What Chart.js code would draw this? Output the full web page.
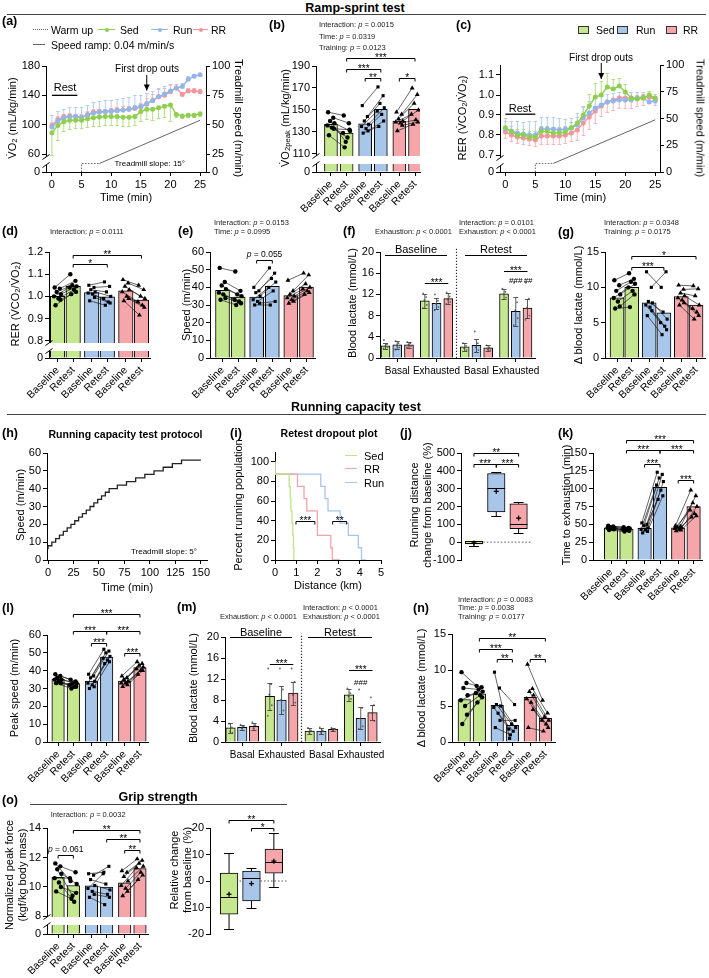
<!DOCTYPE html>
<html>
<head>
<meta charset="utf-8">
<title>Ramp-sprint test, running capacity test and grip strength</title>
<script src="https://cdn.jsdelivr.net/npm/chart.js"></script>
<style>
  html, body { margin: 0; padding: 0; background: #fff; }
  #fig { position: relative; width: 709px; height: 978px; overflow: hidden; font-family: 'Liberation Sans', Arial, sans-serif; color: #000; }
  #fig canvas { position: absolute; }
  .t { position: absolute; white-space: nowrap; line-height: 1; }
  .t sub { font-size: 70%; vertical-align: -0.25em; line-height: 0; }
</style>
</head>
<body>
<div id="fig"></div>
<script>
// ---------------- data ----------------
// (a) VO2 during ramp-sprint test, mean per minute
const rampTime = [0,1,2,3,4,5,6,7,8,9,10,11,12,13,14,15,16,17,18,19,20,21,22,23,24,25];
const vo2Sed = [89,99,104,106,106,106,108,109.5,110.5,111,111,111,110,110,111,118,121,121,123,125,127,114,112,113,113,115];
const vo2Run = [97,105,109,111,111,110,113,116,117,118,118,119,120,121,123,125,129,133,138,142,146,150,152,162,166,168];
const vo2RR  = [99,107,111,112,111,110,114,117,118,118,119,120,120,121,122,124,128,133,138,140,145,150,141,146,146,145];
const vo2SedSD = [30,20,13,12,11,11,11,11,12,12,12,12,12,12,12,13,13,14,14,14,22,4,3,3,3,3];
const vo2RunSD = [16,14,13,13,13,14,14,15,15,15,16,16,17,17,17,16,14,13,12,11,8,6,5,4,3,3];
const vo2RRSD  = [5,5,4,4,4,4,4,4,4,4,4,4,5,5,5,6,8,9,10,10,10,6,4,4,4,4];
// (c) RER during ramp-sprint test
const rerSed = [0.836,0.817,0.80,0.80,0.79,0.79,0.817,0.817,0.81,0.81,0.815,0.836,0.86,0.90,0.945,0.99,1.0,1.04,1.03,1.045,1.015,0.985,0.98,0.985,1.0,0.985];
const rerRun = [0.83,0.82,0.81,0.805,0.80,0.80,0.83,0.83,0.83,0.825,0.83,0.835,0.85,0.885,0.91,0.935,0.95,0.965,0.97,0.975,0.975,0.975,0.985,0.985,0.965,0.97];
const rerRR  = [0.815,0.80,0.79,0.785,0.78,0.775,0.795,0.795,0.795,0.795,0.80,0.81,0.825,0.86,0.89,0.92,0.945,0.965,0.975,0.985,0.985,0.985,0.985,0.99,0.99,0.98];
const rerSedSD = [0.05,0.03,0.03,0.03,0.03,0.03,0.03,0.03,0.03,0.03,0.03,0.03,0.03,0.04,0.06,0.07,0.07,0.07,0.05,0.04,0.04,0.03,0.02,0.02,0.02,0.02];
const rerRunSD = [0.04,0.05,0.06,0.06,0.07,0.07,0.06,0.06,0.06,0.06,0.05,0.05,0.06,0.06,0.06,0.05,0.05,0.04,0.04,0.04,0.04,0.04,0.03,0.03,0.03,0.02];
const rerRRSD  = [0.03,0.03,0.03,0.03,0.03,0.03,0.04,0.04,0.04,0.04,0.04,0.04,0.05,0.06,0.06,0.06,0.05,0.05,0.05,0.05,0.05,0.05,0.04,0.04,0.03,0.03];
// treadmill speed protocol (right axis)
const warmTime = [5, 5, 8], warmSpeed = [0, 8, 8];
const rampT = [8, 25], rampSpeed = [8, 48.8];

// (b) VO2peak
const vo2pkMean = [137, 129, 137.5, 150.5, 140, 150.5];
const vo2pkSedB = [148,143,140,138,136,134,133,127], vo2pkSedR = [145,138,121,131,129,125,132,116];
const vo2pkRunB = [154,144,140,137,135,133,131,129], vo2pkRunR = [171,163,156,152,149,146,140,135];
const vo2pkRRB  = [148,146,142,140,139,138,136,131], vo2pkRRR  = [170,164,156,150,146,141,139,137];
// (d) RER peak
const rerMean = [1.0, 1.045, 1.017, 0.998, 1.025, 0.983];
const rerSedB = [1.04,1.035,1.02,1.01,1.0,0.99,0.985,0.96], rerSedR = [1.10,1.07,1.05,1.045,1.04,1.03,1.02,1.01];
const rerRunB = [1.05,1.04,1.03,1.02,1.015,1.01,0.995,0.98], rerRunR = [1.065,1.045,1.02,1.0,0.99,0.975,0.97,0.96];
const rerRRB  = [1.075,1.06,1.045,1.03,1.02,1.0,0.99,0.98], rerRRR  = [1.05,1.03,1.0,0.99,0.975,0.96,0.95,0.915];
// (e) speed at VO2peak
const spdMean = [38.3, 34.5, 34.5, 40.5, 35.3, 40.2];
const spdSedB = [51,43,41,39,37,36,34,33], spdSedR = [49,38,36,35,33,32,31,30];
const spdRunB = [40,38,37,35,33,32,31,30], spdRunR = [51,48,45,43,40,38,32,30];
const spdRRB  = [44,38,36,35,34,33,32,31], spdRRR  = [48,47,42,40,39,38,37,36];
// (f) blood lactate, ramp-sprint (Baseline basal/exhausted, Retest basal/exhausted; Sed, Run, RR)
const lacRsMean = [2.3,2.5,2.5, 10.8,10.3,11.2, 2.1,2.4,1.9, 12.1,8.8,9.4];
const lacRsSD   = [0.6,0.8,0.6, 1.3,1.1,1.0, 0.8,1.2,0.5, 0.9,2.7,1.8];
const lacRsDots = [[3.4,2.6,2.2,2.0,1.8],[3.2,2.8,2.4,2.0,1.6],[3.0,2.8,2.5,2.2,2.0],
                   [12.2,11.5,10.9,10.0,9.4],[12.0,10.8,10.2,9.6,9.0],[12.4,11.6,11.0,10.6,10.2],
                   [2.8,2.3,1.8,1.5],[5.0,2.8,2.0,1.5],[2.4,2.0,1.7,1.5],
                   [13.1,12.5,12.0,11.4],[14.2,10.5,9.0,7.5,6.2],[14.2,11.2,9.5,8.0,7.2]];
// (g) delta blood lactate, ramp-sprint
const dlRsMean = [8.5, 10.0, 7.8, 6.4, 8.7, 7.5];
const dlRsSedB = [11,10.3,9.5,9,8.5,8,7.3,7], dlRsSedR = [12,11.2,10.8,10.5,10,9.5,9,7.2];
const dlRsRunB = [12.2,10,8,7.8,7.5,7.2,6.7,6], dlRsRunR = [10,12.2,6.5,5.5,5,4.5,4,3.3];
const dlRsRRB  = [10.3,9.7,9.2,8.8,8.5,8.2,7.8,7.5], dlRsRRR = [10.2,9.8,8.8,7.5,7,6.5,6,5.5];
// (h) running capacity test protocol
const protoTime  = [0,3.75,7.5,11.25,15,18.75,22.5,26.25,30,33.75,37.5,41.25,45,48.75,52.5,56.25,60,68,77,86,95,104,113,122,131,140,150];
const protoSpeed = [6,8,10,12,14,16,18,20,22,24,26,28,30,32,34,36,38,40,42,44,46,48,50,52,54,56,56];
// (i) retest dropout distances (km)
const dropSed = [0.67,0.72,0.75,0.8,0.84,0.87,0.89,0.9];
const dropRR  = [1.06,1.37,1.5,2.0,2.0,2.63,2.7,3.07];
const dropRun = [2.16,2.36,2.5,3.07,3.46,3.93,4.08,4.27];
// (j) running distance change from baseline (%): Sed, Run, RR
const rdMin = [-20,145,50], rdQ1 = [-10,170,75], rdMed = [-5,305,100], rdQ3 = [5,385,215], rdMax = [8,395,225], rdMean = [-4,285,135];
// (k) time to exhaustion
const tteMean = [45, 43.5, 44.5, 102, 45, 75];
const tteSedB = [48,47,46,45,45,44,43,42], tteSedR = [46,45,44,44,43,42,41,40];
const tteRunB = [52,50,48,45,43,42,40,38], tteRunR = [123,120,115,110,105,98,90,85];
const tteRRB  = [48,47,46,45,44,43,42,41], tteRRR  = [98,90,80,75,70,65,62,60];
// (l) peak speed
const pkMean = [35.3, 32.7, 34.2, 47.6, 34.2, 41.8];
const pkSedB = [38,37,36,35,35,34,33,33], pkSedR = [35,34,33,33,32,31,31,30];
const pkRunB = [38,37,36,34,33,32,31,30], pkRunR = [52,51,50,48,47,46,45,44];
const pkRRB  = [37,36,35,34,33,33,32,31], pkRRR  = [45,44,43,42,41,40,40,38];
// (m) blood lactate, running capacity test
const lacRcMean = [2.7,2.8,3.0, 8.7,8.0,9.3, 2.1,2.1,2.4, 9.0,4.5,5.6];
const lacRcSD   = [1.0,0.5,0.7, 2.6,2.7,2.2, 0.6,0.5,0.3, 1.1,2.1,1.5];
const lacRcDots = [[3.5,2.8,2.0,1.8],[3.3,3.0,2.6],[3.8,3.2,2.6],
                   [14,11,9,7,5],[14,10,8,6],[14,11.5,9,7.5],
                   [2.7,2.2,1.8],[2.8,2.2,1.8],[2.7,2.4,2.2],
                   [10.2,9.3,8.7,8.2],[10,6.5,4.5,3,2.5],[8.5,7,5.5,4]];
// (n) delta blood lactate, running capacity test
const dlRcMean = [5.9, 6.7, 5.1, 2.3, 6.2, 3.3];
const dlRcSedB = [9.7,8.2,7.5,6.5,5.8,5.0,3.8,2.5], dlRcSedR = [7.8,7.6,7.3,7.0,6.8,6.5,6.2,5.5];
const dlRcRunB = [9.7,7.5,5.2,5.0,4.8,4.0,3.0,2.0], dlRcRunR = [0.5,5.2,2.5,2.0,1.8,1.5,3.0,1.0];
const dlRcRRB  = [10.8,7.4,7.0,6.5,6.0,5.5,4.5,2.0], dlRcRRR = [5.8,4.0,3.5,3.0,3.0,2.5,2.0,1.5];
// (o) grip strength
const gripMean = [10.65, 10.1, 10.08, 10.0, 10.28, 11.25];
const gripSedB = [11.6,11.4,11.2,10.9,10.6,10.3,10.0,9.7], gripSedR = [10.4,11.0,9.4,10.2,10.6,9.0,9.6,9.2];
const gripRunB = [10.9,10.8,10.5,10.1,9.9,9.7,9.5,9.3], gripRunR = [11.0,11.4,10.2,9.8,10.9,9.5,9.3,8.8];
const gripRRB  = [11.1,11.0,10.7,10.4,10.1,9.9,9.7,9.4], gripRRR = [11.9,11.8,11.6,11.4,11.3,11.0,10.8,10.5];
const gcMin = [-18,-10,-2.2], gcQ1 = [-12.5,-7.5,3], gcMed = [-6,1,7.2], gcQ3 = [3,3.7,12], gcMax = [10.5,5,18], gcMean = [-5,-1,7.5];

// ---------------- style ----------------
const FF = "'Liberation Sans', Arial, Helvetica, sans-serif";
Chart.defaults.font.family = FF;
Chart.defaults.color = '#000';
const fig = document.getElementById('fig');

const GRN = '#c5e78f', BLU = '#a8c5ea', RED = '#f5a6aa';
const SEDL = '#8fcf4f', RUNL = '#92b6ea', RRL = '#f3959c';
const SEDE = '#b2df85', RUNE = '#b3cdf2', RRE = '#f7b6ba';
const FILL = [GRN, GRN, BLU, BLU, RED, RED];
const FILL3 = [GRN, BLU, RED];
const P = [0, 1.1, 2.4, 3.5, 4.8, 5.9];
const XL = ['Baseline', 'Retest', 'Baseline', 'Retest', 'Baseline', 'Retest'];
const SHAPES = ['circle', 'rect', 'triangle'];
const JIT = [-0.2, 0.16, -0.06, 0.24, -0.25, 0.06, 0.2, -0.14];

// ---------------- helpers ----------------
function T(x, y, html, size, anchor, o = {}) {
  const d = document.createElement('div');
  d.className = 't';
  d.innerHTML = html;
  d.style.left = x + 'px';
  d.style.top = y + 'px';
  d.style.fontSize = size + 'px';
  if (o.bold) d.style.fontWeight = 'bold';
  if (o.color) d.style.color = o.color;
  const tx = anchor === 'l' ? '0' : anchor === 'r' ? '-100%' : '-50%';
  d.style.transform = 'translate(' + tx + ',-50%)' + (o.rot ? ' rotate(' + o.rot + 'deg)' : '');
  fig.appendChild(d);
}
function HL(x1, x2, y, color, w, style) {
  const d = document.createElement('div');
  Object.assign(d.style, {position: 'absolute', left: x1 + 'px', top: (y - w / 2) + 'px', width: (x2 - x1) + 'px',
    height: '0', borderTop: w + 'px ' + (style || 'solid') + ' ' + color});
  fig.appendChild(d);
}
function dot(x, y, r, col) {
  const d = document.createElement('div');
  Object.assign(d.style, {position: 'absolute', left: (x - r) + 'px', top: (y - r) + 'px', width: 2 * r + 'px',
    height: 2 * r + 'px', borderRadius: '50%', background: col});
  fig.appendChild(d);
}
function swatch(x, y, fill) {
  const d = document.createElement('div');
  Object.assign(d.style, {position: 'absolute', left: x + 'px', top: (y - 4) + 'px', width: '9px', height: '6px',
    background: fill, border: '1px solid #333'});
  fig.appendChild(d);
}
const xy = (xs, ys) => xs.map((x, i) => ({x, y: ys[i]}));
const km = drops => [{x: 0, y: 100}].concat(drops.map((d, i) => ({x: d, y: 100 * (drops.length - i - 1) / drops.length})));

function ax(o) {
  return {
    type: 'linear', position: o.pos, min: o.min, max: o.max, offset: false, bounds: 'data',
    display: o.display !== false,
    afterBuildTicks: s => { s.ticks = o.ticks.map(v => ({value: v})); },
    ticks: {
      autoSkip: false, color: '#000', padding: o.pad ?? 2,
      font: {size: o.size || 11, family: FF},
      minRotation: o.rot || 0, maxRotation: o.rot || 0,
      callback: o.lab || (v => String(v))
    },
    grid: {display: true, drawOnChartArea: false, drawTicks: true, tickLength: 4, color: '#000', lineWidth: 1, offset: false},
    border: {display: true, color: '#000', width: 1},
    afterFit: s => {
      if (s.isHorizontal()) s.height = o.h ?? 20; else s.width = o.w ?? 30;
      s.paddingLeft = s.paddingRight = s.paddingTop = s.paddingBottom = 0;
    }
  };
}

function drawLabel(c, s, xm, Y) {
  if (s[0] === '*') {
    c.font = '10px ' + FF; c.textAlign = 'center'; c.textBaseline = 'alphabetic';
    c.fillText(s, xm, Y + 2.8);
  } else {
    const rest = s.slice(1);
    c.font = 'italic 8.5px ' + FF; const w1 = c.measureText('p').width;
    c.font = '8.5px ' + FF; const w2 = c.measureText(rest).width;
    const x0 = xm - (w1 + w2) / 2;
    c.textAlign = 'left'; c.textBaseline = 'alphabetic';
    c.font = 'italic 8.5px ' + FF; c.fillText('p', x0, Y - 4);
    c.font = '8.5px ' + FF; c.fillText(rest, x0 + w1, Y - 4);
  }
}

// annotations drawn through the chart's own scales
function deco(sp) {
  const run = (ch, under) => {
    const c = ch.ctx, X = ch.scales.x, Y = ch.scales.y, A = ch.chartArea;
    const xp = v => X.getPixelForValue(v), yp = v => Y.getPixelForValue(v);
    const seg = (x1, y1, x2, y2) => { c.beginPath(); c.moveTo(x1, y1); c.lineTo(x2, y2); c.stroke(); };
    c.save();
    (sp.errs || []).filter(e => !!e.under === under).forEach(e => {
      const meta = ch.getDatasetMeta(e.ds), d = ch.data.datasets[e.ds].data;
      c.strokeStyle = e.color; c.lineWidth = e.lw || 1;
      meta.data.forEach((el, i) => {
        const v = d[i].y;
        [[e.up, 1], [e.dn, -1]].forEach(([arr, sg]) => {
          if (!arr) return;
          const ye = Math.round(yp(v + sg * arr[i])) + 0.5;
          seg(el.x, yp(v), el.x, ye);
          seg(el.x - e.cap, ye, el.x + e.cap, ye);
        });
      });
    });
    (sp.lines || []).filter(l => !!l.under === under).forEach(l => {
      c.strokeStyle = l.color || '#000'; c.lineWidth = l.lw || 1; c.setLineDash(l.dash || []);
      c.beginPath();
      l.x.forEach((xv, i) => { const px = xp(xv), py = yp(l.y[i]); if (i) c.lineTo(px, py); else c.moveTo(px, py); });
      c.stroke(); c.setLineDash([]);
      if (l.arrow) {
        const n = l.x.length, px = xp(l.x[n - 1]), py = yp(l.y[n - 1]);
        c.fillStyle = l.color || '#000';
        c.beginPath(); c.moveTo(px, py); c.lineTo(px - 3, py - 6); c.lineTo(px + 3, py - 6); c.closePath(); c.fill();
      }
    });
    if (!under) {
      if (sp.brk !== undefined) {
        const t0 = Math.round(yp(sp.brk) + (sp.brkOff ?? 2.5)), h = sp.brkH ?? 8;
        const L = A.left, R = sp.brkW ? L + sp.brkW : A.right + 1;
        c.fillStyle = '#fff'; c.fillRect(L - 5, t0, R - L + 5, h);
        c.strokeStyle = '#000'; c.lineWidth = 1;
        [t0, t0 + h].forEach(yy => seg(L - 3.5, yy + 2.5, L + 3.5, yy - 2.5));
      }
      if (sp.box) {
        const b = sp.box, meta = ch.getDatasetMeta(0), d = ch.data.datasets[0].data;
        c.strokeStyle = '#000'; c.lineWidth = 1;
        meta.data.forEach((el, i) => {
          const x = el.x, hw = el.width / 2, q = d[i].y;
          const ym = Math.round(yp(b.med[i])) + 0.5, yh = Math.round(yp(b.hi[i])) + 0.5, yl = Math.round(yp(b.lo[i])) + 0.5;
          seg(x - hw, ym, x + hw, ym);
          seg(x, yp(q[1]), x, yh); seg(x - 5, yh, x + 5, yh);
          seg(x, yp(q[0]), x, yl); seg(x - 5, yl, x + 5, yl);
          const yq = yp(b.mean[i]);
          c.lineWidth = 1.3; seg(x - 2.5, yq, x + 2.5, yq); seg(x, yq - 2.5, x, yq + 2.5); c.lineWidth = 1;
        });
      }
      (sp.br || []).forEach(([x1, x2, v, s, tk = 3]) => {
        const X1 = xp(x1), X2 = xp(x2), Yb = Math.round(yp(v)) + 0.5;
        c.strokeStyle = '#000'; c.lineWidth = 1; c.fillStyle = '#000';
        c.beginPath(); c.moveTo(X1, Yb + tk); c.lineTo(X1, Yb); c.lineTo(X2, Yb); c.lineTo(X2, Yb + tk); c.stroke();
        drawLabel(c, s, (X1 + X2) / 2, Yb);
      });
      (sp.texts || []).forEach(([xv, v, s, size]) => {
        c.fillStyle = '#000'; c.font = (size || 8) + 'px ' + FF; c.textAlign = 'center'; c.textBaseline = 'middle';
        c.fillText(s, xp(xv), yp(v));
      });
    }
    c.restore();
  };
  return {id: 'deco', beforeDatasetsDraw: ch => run(ch, true), afterDatasetsDraw: ch => run(ch, false)};
}

function mk(area, cfg, o = {}) {
  const [l, t, r, b] = area.map(Math.round);
  const yw = o.yw ?? 30, xh = o.xh ?? 0, y2w = o.y2w ?? 0;
  const pl = o.pl ?? 45, pt = o.pt ?? 50, pr = o.pr ?? 40, pb = o.pb ?? 55;
  const cv = document.createElement('canvas');
  const W = r - l + pl + pr, H = b - t + pt + pb;
  cv.width = W; cv.height = H;
  Object.assign(cv.style, {left: (l - pl) + 'px', top: (t - pt) + 'px', width: W + 'px', height: H + 'px'});
  fig.appendChild(cv);
  cfg.options = Object.assign({
    responsive: false, animation: false, devicePixelRatio: 1, events: [],
    layout: {padding: {left: pl - yw, top: pt, right: pr - y2w, bottom: pb - xh}}
  }, cfg.options || {});
  cfg.options.plugins = Object.assign({legend: {display: false}, tooltip: {enabled: false}}, cfg.options.plugins || {});
  return new Chart(cv, cfg);
}

function series(xs, ys, col) {
  return {data: xy(xs, ys), borderColor: col, backgroundColor: col, pointBackgroundColor: col, pointBorderColor: col,
    pointRadius: 1.8, borderWidth: 1.4};
}

// bar + before/after pairs panel
function pairPanel(area, sp) {
  const lines = [], marks = [[], [], []];
  sp.grp.forEach(([B, R], g) => {
    B.forEach((v, i) => {
      const dx = JIT[i % JIT.length];
      const a = {x: P[2 * g] + dx, y: v}, b = {x: P[2 * g + 1] + dx, y: R[i]};
      lines.push(a, b, {x: b.x, y: null});
      marks[g].push(a, b);
    });
  });
  const ds = [
    {type: 'bar', data: xy(P, sp.mean), backgroundColor: FILL, borderColor: '#000', borderWidth: 1,
      barThickness: sp.bw, base: sp.y.min, order: 3},
    {type: 'line', data: lines, borderColor: '#222', borderWidth: 0.7, pointRadius: 0, spanGaps: false, order: 2}
  ].concat(marks.map((m, g) => ({type: 'line', data: m, showLine: false, pointStyle: SHAPES[g],
    pointRadius: g === 2 ? 2.8 : 2.2, pointBackgroundColor: '#000', pointBorderColor: '#000', pointBorderWidth: 0, order: 1})));
  const fmt = sp.y.fmt || (v => String(v));
  return mk(area, {type: 'bar', data: {datasets: ds}, options: {scales: {
    x: ax({pos: 'bottom', min: sp.x[0], max: sp.x[1], ticks: P, lab: (v, i) => XL[i], rot: 45, size: 10.5, h: 40, pad: 2}),
    y: ax({pos: 'left', min: sp.y.min, max: sp.y.max, ticks: sp.y.ticks,
      lab: v => (sp.y.brk !== undefined && v === sp.y.min) ? '0' : fmt(v), w: 30})
  }}, plugins: [deco({brk: sp.y.brk, brkOff: sp.y.brkOff, br: sp.br})]}, {xh: 40});
}

// blood lactate panel: 12 bars with SD and individual dots
function lacPanel(area, sp) {
  const pos = [];
  for (let h = 0; h < 2; h++) for (let g = 0; g < 2; g++) for (let i = 0; i < 3; i++) pos.push(h * 6.75 + g * 3.35 + i);
  const dots = [];
  sp.dots.forEach((arr, k) => arr.forEach((v, j) => dots.push({x: pos[k] + JIT[j] * 0.7, y: v})));
  return mk(area, {type: 'bar', data: {datasets: [
    {type: 'bar', data: xy(pos, sp.mean), backgroundColor: pos.map((_, k) => FILL3[k % 3]), borderColor: '#000',
      borderWidth: 1, barThickness: sp.bw, order: 2},
    {type: 'line', data: dots, showLine: false, pointRadius: 0.9, pointBackgroundColor: '#666', pointBorderWidth: 0, order: 1}
  ]}, options: {scales: {
    x: ax({pos: 'bottom', min: -0.47, max: 12.74, ticks: [1, 4.35, 7.75, 11.1],
      lab: (v, i) => ['Basal', 'Exhausted', 'Basal', 'Exhausted'][i], size: 10, h: 20, pad: 3}),
    y: ax({pos: 'left', min: 0, max: 20, ticks: [0, 4, 8, 12, 16, 20], w: 30})
  }}, plugins: [deco({errs: [{ds: 0, up: sp.sd, dn: sp.sd, color: '#333', cap: 2.5, lw: 0.8}], br: sp.br, texts: sp.texts,
    lines: [{x: [6.05, 6.05], y: [0, 20.6], dash: [1.2, 1.8], color: '#333', lw: 1.2}]})]}, {xh: 20});
}

// box and whisker panel
function boxPanel(area, sp) {
  const xs = [0, 1, 2];
  return mk(area, {type: 'bar', data: {datasets: [
    {type: 'bar', data: xs.map((x, i) => ({x, y: [sp.q1[i], sp.q3[i]]})), backgroundColor: FILL3, borderColor: '#000',
      borderWidth: 1, borderSkipped: false, barThickness: sp.bw}
  ]}, options: {scales: {
    x: ax({pos: 'bottom', min: sp.x[0], max: sp.x[1], ticks: xs, display: false, h: 0}),
    y: ax({pos: 'left', min: sp.y.min, max: sp.y.max, ticks: sp.y.ticks, w: 30})
  }}, plugins: [deco({box: {med: sp.med, lo: sp.lo, hi: sp.hi, mean: sp.mean}, br: sp.br,
    lines: [{x: sp.zero, y: [0, 0], dash: [1.5, 2], color: '#555', under: true}]})]}, {xh: 0});
}

// ---------------- (a) VO2 over time ----------------
const aYmin = 35.5, aYmax = 180, aYt = [aYmin, 60, 100, 140, 180], speedLab = [0, 25, 50, 75, 100];
mk([46, 66, 206, 172], {type: 'line', data: {datasets: [
  series(rampTime, vo2Sed, SEDL), series(rampTime, vo2Run, RUNL), series(rampTime, vo2RR, RRL),
  {data: xy(warmTime, warmSpeed), yAxisID: 'y2', borderColor: '#666', borderWidth: 1, borderDash: [1.5, 1.5], pointRadius: 0},
  {data: xy(rampT, rampSpeed), yAxisID: 'y2', borderColor: '#666', borderWidth: 1, pointRadius: 0}
]}, options: {scales: {
  x: ax({pos: 'bottom', min: -1, max: 26, ticks: [0, 5, 10, 15, 20, 25], h: 20}),
  y: ax({pos: 'left', min: aYmin, max: aYmax, ticks: aYt, lab: v => v === aYmin ? '0' : String(v), w: 30}),
  y2: ax({pos: 'right', min: 0, max: 100, ticks: aYt.map(v => (v - aYmin) / (aYmax - aYmin) * 100),
    lab: (v, i) => String(speedLab[i]), w: 30})
}}, plugins: [deco({
  errs: [{ds: 0, dn: vo2SedSD, color: SEDE, cap: 1.8, under: true}, {ds: 1, up: vo2RunSD, color: RUNE, cap: 1.8, under: true},
         {ds: 2, up: vo2RRSD, color: RRE, cap: 1.8, under: true}],
  brk: 60, brkW: 6,
  lines: [{x: [0, 4.3], y: [140, 140], lw: 1.3}, {x: [16, 16], y: [167.7, 146.5], arrow: true}]
})]}, {xh: 20, y2w: 30, pr: 45});

// ---------------- (b) VO2peak ----------------
pairPanel([316, 66, 420, 172], {x: [-1.05, 6.25], y: {min: 93.6, max: 190, ticks: [93.6, 110, 130, 150, 170, 190], brk: 110},
  mean: vo2pkMean, grp: [[vo2pkSedB, vo2pkSedR], [vo2pkRunB, vo2pkRunR], [vo2pkRRB, vo2pkRRR]], bw: 13,
  br: [[P[1], P[5], 197.5, '***'], [P[1], P[3], 187, '***'], [P[2], P[3], 179.4, '**'], [P[4], P[5], 179.4, '*']]});

// ---------------- (c) RER over time ----------------
const cYmin = 0.615;
mk([500, 65, 660, 172], {type: 'line', data: {datasets: [
  series(rampTime, rerSed, SEDL), series(rampTime, rerRun, RUNL), series(rampTime, rerRR, RRL),
  {data: xy(warmTime, warmSpeed), yAxisID: 'y2', borderColor: '#666', borderWidth: 1, borderDash: [1.5, 1.5], pointRadius: 0},
  {data: xy(rampT, rampSpeed), yAxisID: 'y2', borderColor: '#666', borderWidth: 1, pointRadius: 0}
]}, options: {scales: {
  x: ax({pos: 'bottom', min: -0.9, max: 25.8, ticks: [0, 5, 10, 15, 20, 25], h: 20}),
  y: ax({pos: 'left', min: cYmin, max: 1.15, ticks: [cYmin, 0.7, 0.8, 0.9, 1.0, 1.1],
    lab: v => v === cYmin ? '0' : v.toFixed(1), w: 30}),
  y2: ax({pos: 'right', min: 0, max: 100, ticks: speedLab, w: 30})
}}, plugins: [deco({
  errs: [{ds: 0, up: rerSedSD, color: SEDE, cap: 1.8, under: true}, {ds: 1, up: rerRunSD, color: RUNE, cap: 1.8, under: true},
         {ds: 2, dn: rerRRSD, color: RRE, cap: 1.8, under: true}],
  brk: 0.7, brkW: 6,
  lines: [{x: [0, 5], y: [0.904, 0.904], lw: 1.3}, {x: [16, 16], y: [1.16, 1.08], arrow: true}]
})]}, {xh: 20, y2w: 30, pr: 45});

// ---------------- (d) RER ----------------
pairPanel([49, 252, 150, 358], {x: [-0.6, 6.5],
  y: {min: 0.722, max: 1.2, ticks: [0.722, 0.8, 0.9, 1.0, 1.1, 1.2], brk: 0.8, fmt: v => v.toFixed(1)},
  mean: rerMean, grp: [[rerSedB, rerSedR], [rerRunB, rerRunR], [rerRRB, rerRRR]], bw: 14.5,
  br: [[P[1], P[5], 1.185, '**'], [P[1], P[3], 1.148, '*']]});

// ---------------- (e) speed ----------------
pairPanel([210, 252, 315, 358], {x: [-0.88, 6.5], y: {min: 0, max: 60, ticks: [0, 10, 20, 30, 40, 50, 60]},
  mean: spdMean, grp: [[spdSedB, spdSedR], [spdRunB, spdRunR], [spdRRB, spdRRR]], bw: 14,
  br: [[P[2], P[3], 55.3, 'p = 0.055']]});

// ---------------- (f) blood lactate ramp-sprint ----------------
lacPanel([380, 252, 535, 358], {mean: lacRsMean, sd: lacRsSD, dots: lacRsDots, bw: 9,
  br: [[3.35, 5.35, 14.1, '***', 0], [10.1, 12.1, 16.4, '***', 0]],
  texts: [[11.1, 14.5, '###'], [12.15, 14.5, '##']]});

// ---------------- (g) delta lactate ramp-sprint ----------------
pairPanel([605, 252, 705, 358], {x: [-0.9, 6.57], y: {min: 0, max: 15, ticks: [0, 5, 10, 15]},
  mean: dlRsMean, grp: [[dlRsSedB, dlRsSedR], [dlRsRunB, dlRsRunR], [dlRsRRB, dlRsRRR]], bw: 14,
  br: [[P[1], P[5], 14.4, '*'], [P[1], P[3], 12.9, '***']]});

// ---------------- (h) protocol ----------------
mk([47, 453, 207, 560], {type: 'line', data: {datasets: [
  {data: xy(protoTime, protoSpeed), stepped: 'after', borderColor: '#222', borderWidth: 1.3, pointRadius: 0}
]}, options: {scales: {
  x: ax({pos: 'bottom', min: -1, max: 156, ticks: [0, 25, 50, 75, 100, 125, 150], h: 20}),
  y: ax({pos: 'left', min: 0, max: 60, ticks: [0, 10, 20, 30, 40, 50, 60], w: 30})
}}}, {xh: 20});

// ---------------- (i) dropout ----------------
mk([275, 452, 381, 560], {type: 'line', data: {datasets: [
  {data: km(dropSed), stepped: 'after', borderColor: '#bfe387', borderWidth: 1.3, pointRadius: 0},
  {data: km(dropRR), stepped: 'after', borderColor: '#f4a3a8', borderWidth: 1.3, pointRadius: 0},
  {data: km(dropRun), stepped: 'after', borderColor: '#a7c5ef', borderWidth: 1.3, pointRadius: 0}
]}, options: {scales: {
  x: ax({pos: 'bottom', min: 0, max: 5, ticks: [0, 1, 2, 3, 4, 5], h: 20}),
  y: ax({pos: 'left', min: 0, max: 110, ticks: [0, 20, 40, 60, 80, 100], w: 30})
}}, plugins: [deco({br: [[0.99, 1.88, 39.7, '***'], [2.72, 3.38, 39.7, '**']]})]}, {xh: 20});

// ---------------- (j) distance change ----------------
boxPanel([461, 453, 532, 560], {x: [-0.58, 2.6], y: {min: -100, max: 500, ticks: [-100, 0, 100, 200, 300, 400, 500]},
  q1: rdQ1, q3: rdQ3, med: rdMed, lo: rdMin, hi: rdMax, mean: rdMean, bw: 17.5, zero: [0.42, 2.6],
  br: [[0, 2, 500, '**'], [0, 1, 441, '***'], [1, 2, 441, '***']]});

// ---------------- (k) time to exhaustion ----------------
pairPanel([593, 453, 702, 560], {x: [-1.29, 6.5], y: {min: 0, max: 150, ticks: [0, 25, 50, 75, 100, 125, 150]},
  mean: tteMean, grp: [[tteSedB, tteSedR], [tteRunB, tteRunR], [tteRRB, tteRRR]], bw: 13.5,
  br: [[P[1], P[5], 167.8, '***'], [P[1], P[3], 153.8, '***'], [P[3], P[5], 153.8, '***'],
       [P[2], P[3], 135.2, '***'], [P[4], P[5], 111.9, '***']]});

// ---------------- (l) peak speed ----------------
pairPanel([47, 635, 148, 742], {x: [-0.8, 6.48], y: {min: 0, max: 60, ticks: [0, 10, 20, 30, 40, 50, 60]},
  mean: pkMean, grp: [[pkSedB, pkSedR], [pkRunB, pkRunR], [pkRRB, pkRRR]], bw: 12.5,
  br: [[P[1], P[5], 71.8, '***'], [P[1], P[3], 62.3, '***'], [P[3], P[5], 62.3, '***'],
       [P[2], P[3], 55.5, '***'], [P[4], P[5], 49.9, '***']]});

// ---------------- (m) blood lactate running capacity ----------------
lacPanel([225, 637, 380, 742], {mean: lacRcMean, sd: lacRcSD, dots: lacRcDots, bw: 9.5,
  br: [[3.35, 5.35, 14.8, '***', 0], [10.1, 12.1, 13.66, '***', 0]],
  texts: [[11.1, 11.2, '###']]});

// ---------------- (n) delta lactate running capacity ----------------
pairPanel([452, 634, 555, 742], {x: [-0.89, 6.6], y: {min: 0, max: 15, ticks: [0, 5, 10, 15]},
  mean: dlRcMean, grp: [[dlRcSedB, dlRcSedR], [dlRcRunB, dlRcRunR], [dlRcRRB, dlRcRRR]], bw: 12.5,
  br: [[P[1], P[5], 14.5, '**'], [P[1], P[3], 12.9, '***'], [P[2], P[3], 11.55, '**'], [P[4], P[5], 11.55, '**']]});

// ---------------- (o) grip strength ----------------
pairPanel([47, 828, 148, 934], {x: [-0.8, 6.48], y: {min: 6.81, max: 14, ticks: [6.81, 8, 10, 12, 14], brk: 8, brkOff: 1},
  mean: gripMean, grp: [[gripSedB, gripSedR], [gripRunB, gripRunR], [gripRRB, gripRRR]], bw: 12.5,
  br: [[P[1], P[5], 13.85, '**'], [P[3], P[5], 13.24, '**'], [P[4], P[5], 12.5, '**'], [P[0], P[1], 12.16, 'p = 0.061']]});
boxPanel([210, 828, 290, 934], {x: [-0.85, 2.72], y: {min: -20, max: 20, ticks: [-20, -10, 0, 10, 20]},
  q1: gcQ1, q3: gcQ3, med: gcMed, lo: gcMin, hi: gcMax, mean: gcMean, bw: 17.7, zero: [0, 2.65],
  br: [[0, 2, 22.9, '**'], [1, 2, 19.9, '*']]});

// ---------------- text layer ----------------
const VO2 = 'V&#775;O<sub>2</sub>', VCO2 = 'V&#775;CO<sub>2</sub>';
T(355, 7.5, 'Ramp-sprint test', 12.5, 'c', {bold: true});
HL(7, 706, 14.5, '#444', 1.3);
T(356, 407, 'Running capacity test', 12.5, 'c', {bold: true});
HL(7, 706, 415, '#444', 1.3);
T(158, 797, 'Grip strength', 12.5, 'c', {bold: true});
HL(30, 287, 805, '#444', 1.3);

[['(a)', 2, 21], ['(b)', 269, 25], ['(c)', 456, 25], ['(d)', 2, 231], ['(e)', 178, 231], ['(f)', 343, 231],
 ['(g)', 558, 232], ['(h)', 2, 433], ['(i)', 230, 433], ['(j)', 400, 433], ['(k)', 558, 433], ['(l)', 2, 608],
 ['(m)', 177, 607], ['(n)', 413, 608], ['(o)', 2, 800]].forEach(([s, x, y]) => T(x, y, s, 12.5, 'l', {bold: true}));

const st = (x, y, s) => T(x, y, s, 7.5, 'l', {color: '#222'});
st(319, 25, 'Interaction: <i>p</i> = 0.0015'); st(319, 36.7, 'Time: <i>p</i> = 0.0319'); st(319, 48.3, 'Training: <i>p</i> = 0.0123');
st(50, 232, 'Interaction: <i>p</i> = 0.0111');
st(214, 223, 'Interaction: <i>p</i> = 0.0153'); st(214, 232, 'Time: <i>p</i> = 0.0995');
st(375, 232, 'Exhaustion: <i>p</i> &lt; 0.0001');
st(459, 223, 'Interaction: <i>p</i> = 0.0101'); st(459, 232, 'Exhaustion: <i>p</i> &lt; 0.0001');
st(604, 223, 'Interaction: <i>p</i> = 0.0348'); st(604, 232, 'Training: <i>p</i> = 0.0175');
st(220, 616.7, 'Exhaustion: <i>p</i> &lt; 0.0001');
st(303, 608.3, 'Interaction: <i>p</i> &lt; 0.0001'); st(303, 616.7, 'Exhaustion: <i>p</i> &lt; 0.0001');
st(458, 600, 'Interaction: <i>p</i> = 0.0083'); st(458, 608.3, 'Time: <i>p</i> = 0.0038'); st(458, 617, 'Training: <i>p</i> = 0.0177');
st(50.7, 815, 'Interaction: <i>p</i> = 0.0032');

const yt = (x, y, s, rot) => T(x, y, s, 11, 'c', {rot: rot || -90});
yt(12, 118, VO2 + ' (mL/kg/min)');
yt(238, 118, 'Treadmill speed (m/min)', 90);
T(126, 197, 'Time (min)', 11, 'c');
yt(285, 118, 'V&#775;O<sub>2peak</sub> (mL/kg/min)');
yt(462, 118, 'RER (' + VCO2 + '/' + VO2 + ')');
yt(700, 118, 'Treadmill speed (m/min)', 90);
T(580, 197, 'Time (min)', 11, 'c');
yt(15, 304, 'RER (' + VCO2 + '/' + VO2 + ')');
yt(186, 305, 'Speed (m/min)');
yt(352, 303, 'Blood lactate (mmol/L)');
yt(578, 305, '&Delta; blood lactate (mmol/L)');
yt(20, 505, 'Speed (m/min)');
T(127, 587, 'Time (min)', 11, 'c');
yt(238, 505, 'Percent running population');
T(328, 585, 'Distance (km)', 11, 'c');
yt(414, 505, 'Running distance');
yt(427, 505, 'change from baseline (%)');
yt(566, 505, 'Time to exhaustion (min)');
yt(14, 688, 'Peak speed (m/min)');
yt(193, 688, 'Blood lactate (mmol/L)');
yt(421, 688, '&Delta; blood lactate (mmol/L)');
yt(9, 875, 'Normalized peak force');
yt(22, 875, '(kgf/kg body mass)');
yt(174, 870, 'Relative change');
yt(187, 870, 'from baseline (%)');

T(125.5, 434, 'Running capacity test protocol', 10.5, 'c', {bold: true});
T(329, 433, 'Retest dropout plot', 10.5, 'c', {bold: true});

// in-plot notes
T(65, 87, 'Rest', 11, 'c');
T(147, 69, 'First drop outs', 10, 'c');
T(185, 164, 'Treadmill slope: 15&deg;', 8, 'r');
T(520, 108, 'Rest', 11, 'c');
T(601, 58, 'First drop outs', 10, 'c');
T(197, 551.5, 'Treadmill slope: 5&deg;', 8, 'r');
T(416, 249, 'Baseline', 11, 'c'); HL(385, 447, 255, '#000', 1);
T(496, 249, 'Retest', 11, 'c'); HL(465, 527, 255, '#000', 1);
T(261, 631.5, 'Baseline', 11, 'c'); HL(230, 292, 637, '#000', 1);
T(340, 631.5, 'Retest', 11, 'c'); HL(308, 372, 637, '#000', 1);

// legends
HL(33, 48, 30, '#666', 1.3, 'dotted'); T(51, 30, 'Warm up', 10.5, 'l');
HL(98, 115, 30, SEDL, 1.5); dot(106.5, 30, 2, SEDL); T(120, 30, 'Sed', 10.5, 'l');
HL(151, 168, 30, RUNL, 1.5); dot(159.5, 30, 2, RUNL); T(173, 30, 'Run', 10.5, 'l');
HL(193, 208, 30, RRL, 1.5); dot(200.5, 30, 2, RRL); T(211, 30, 'RR', 10.5, 'l');
HL(33, 45, 45, '#666', 1.3); T(51, 45, 'Speed ramp: 0.04 m/min/s', 10.5, 'l');
swatch(578, 30, GRN); T(596, 30, 'Sed', 10.5, 'l');
swatch(617, 30, BLU); T(636, 30, 'Run', 10.5, 'l');
swatch(666, 30, RED); T(683, 30, 'RR', 10.5, 'l');
HL(345, 357, 456, '#bfe387', 1.3); T(364, 456, 'Sed', 11, 'l');
HL(345, 357, 469, '#f4a3a8', 1.3); T(364, 469, 'RR', 11, 'l');
HL(345, 357, 482.7, '#a7c5ef', 1.3); T(364, 482.7, 'Run', 11, 'l');
</script>
</body>
</html>
